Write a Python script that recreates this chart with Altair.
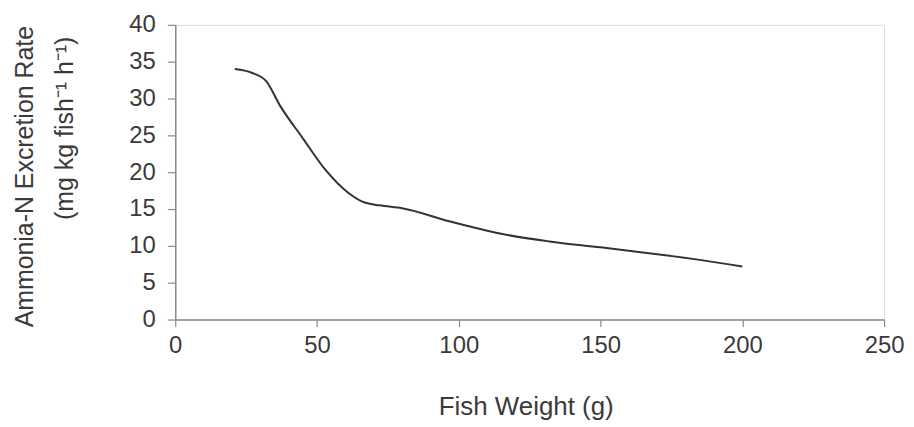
import altair as alt
import pandas as pd

weight = [21, 27, 32, 37, 45, 53, 61, 66, 72, 80, 97, 114, 132, 150, 167, 185, 200]
rate = [34.0, 33.5, 32.4, 29.0, 24.6, 20.3, 17.2, 16.0, 15.5, 15.1, 13.3, 11.7, 10.6, 9.8, 9.0, 8.1, 7.2]
x_ticks = [0, 50, 100, 150, 200, 250]
y_ticks = [0, 5, 10, 15, 20, 25, 30, 35, 40]
y_title = ["Ammonia-N Excretion Rate",
           "\u200b" + "\u00a0" * 14 + "(mg kg fish\u207b\u00b9 h\u207b\u00b9)"]
x_title = "Fish Weight (g)"

df = pd.DataFrame({"weight": weight, "rate": rate})

FONT = "Liberation Sans"
TXT = "#3a3a3a"
AX = "#8a8a8a"

chart = alt.Chart(df).mark_line(
    color="#333333", strokeWidth=2, interpolate="monotone"
).encode(
    x=alt.X("weight:Q",
            scale=alt.Scale(domain=[0, 250], nice=False, zero=True),
            axis=alt.Axis(values=x_ticks, title=x_title, grid=False, labelFlush=False,
                          domainColor=AX, domainWidth=1.5, tickColor=AX, tickWidth=1.2,
                          tickSize=7, labelPadding=7, labelFontSize=24, labelFont=FONT,
                          labelColor=TXT, titleFont=FONT, titleFontSize=26,
                          titleFontWeight="normal", titleColor=TXT,
                          titleY=74, titleBaseline="top", titleX=352)),
    y=alt.Y("rate:Q",
            scale=alt.Scale(domain=[0, 40], nice=False),
            axis=alt.Axis(values=y_ticks, title=y_title, labelFlush=False,
                          grid=False, domainColor=AX, domainWidth=1.5, tickColor=AX,
                          tickWidth=1.2, tickSize=8, labelPadding=12, labelFontSize=24,
                          labelFont=FONT, labelColor=TXT, titleFont=FONT, titleFontSize=25,
                          titleFontWeight="normal", titleColor=TXT, titleLineHeight=40,
                          titleX=-151, titleY=152, titleBaseline="middle",
                          titleAlign="center", titleAngle=-90)),
).properties(
    width=712, height=296,
    autosize=alt.AutoSizeParams(type="none"),
    padding={"left": 168, "top": 16, "right": 22, "bottom": 103},
).configure_view(stroke=None).configure(background="white")

chart.save("out.html", embed_options={"renderer": "svg", "actions": False})
